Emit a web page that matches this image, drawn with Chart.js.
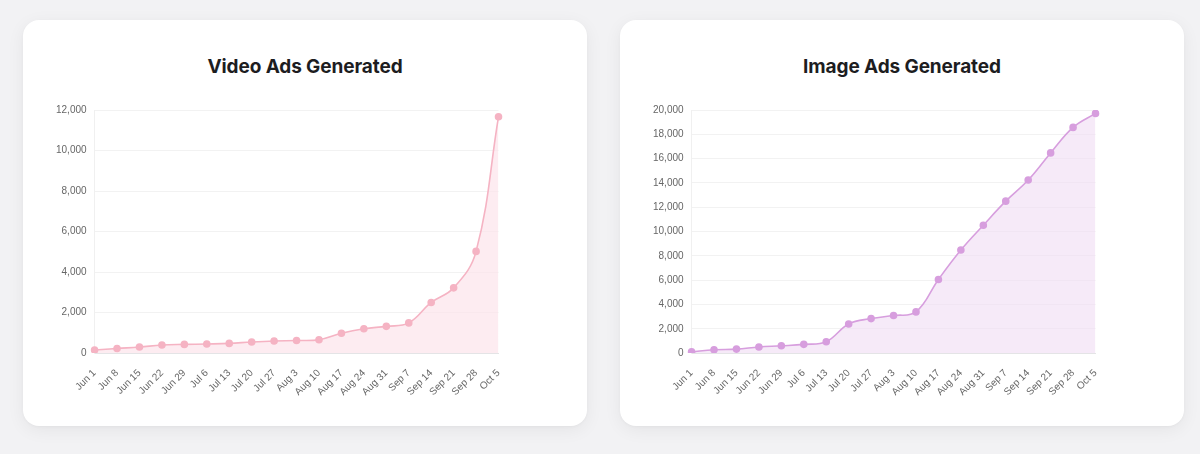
<!DOCTYPE html>
<html>
<head>
<meta charset="utf-8">
<script src="https://cdn.jsdelivr.net/npm/chart.js@4.4.0/dist/chart.umd.min.js"></script>
<style>
  html, body { margin: 0; padding: 0; }
  body { width: 1200px; height: 454px; background: #f2f2f4; position: relative; overflow: hidden; font-family: Inter, "Helvetica Neue", Arial, sans-serif; }
  .card { position: absolute; top: 20px; width: 564px; height: 406px; background: #fff; border-radius: 16px; box-shadow: 0 4px 18px rgba(0,0,0,0.06), 0 1px 3px rgba(0,0,0,0.03); }
  .card h2 { position: absolute; left: 0; right: 0; top: 35px; margin: 0; text-align: center; font-size: 19px; font-weight: 700; line-height: 24px; color: #1d1d1f; letter-spacing: -0.1px; }
  .wrap { position: absolute; left: 25px; top: 76px; width: 465px; height: 308px; }
</style>
</head>
<body>
<div class="card" style="left:23px"><h2>Video Ads Generated</h2><div class="wrap"><canvas id="videoChart"></canvas></div></div>
<div class="card" style="left:620px"><h2>Image Ads Generated</h2><div class="wrap"><canvas id="imageChart"></canvas></div></div>
<script>
var weeks = ['Jun 1', 'Jun 8', 'Jun 15', 'Jun 22', 'Jun 29', 'Jul 6', 'Jul 13', 'Jul 20', 'Jul 27',
  'Aug 3', 'Aug 10', 'Aug 17', 'Aug 24', 'Aug 31', 'Sep 7', 'Sep 14', 'Sep 21', 'Sep 28', 'Oct 5'];
var videoAds = [150, 230, 300, 400, 430, 450, 480, 550, 600, 620, 660, 980, 1200, 1320, 1490, 2500, 3220, 5020, 11670];
var imageAds = [110, 275, 330, 500, 600, 720, 940, 2400, 2840, 3090, 3390, 6060, 8480, 10520, 12500, 14240, 16470, 18570, 19720];

function lineChart(id, values, lineColor, fillColor, maxY, step) {
  var ctx = document.getElementById(id);
  return new Chart(ctx, {
    type: 'line',
    data: {
      labels: weeks,
      datasets: [{
        data: values,
        borderColor: lineColor,
        backgroundColor: fillColor,
        pointBackgroundColor: lineColor,
        pointBorderColor: lineColor,
        pointRadius: 3,
        borderWidth: 1.6,
        tension: 0.4,
        fill: true
      }]
    },
    options: {
      responsive: true,
      maintainAspectRatio: false,
      animation: false,
      plugins: { legend: { display: false }, tooltip: { enabled: false } },
      scales: {
        x: {
          grid: { display: false },
          border: { color: '#e4e4e6' },
          ticks: { color: '#666', font: { size: 10 }, maxRotation: 45, minRotation: 45, autoSkip: false, padding: 6 }
        },
        y: {
          min: 0,
          max: maxY,
          grid: { color: '#f2f2f2', drawTicks: false },
          border: { color: '#f0f0f0' },
          ticks: { color: '#666', font: { size: 10 }, stepSize: step, padding: 8 }
        }
      }
    }
  });
}

lineChart('videoChart', videoAds, '#f5b3c3', 'rgba(252, 226, 233, 0.65)', 12000, 2000);
lineChart('imageChart', imageAds, '#d79ede', 'rgba(240, 220, 244, 0.6)', 20000, 2000);
</script>
</body>
</html>
